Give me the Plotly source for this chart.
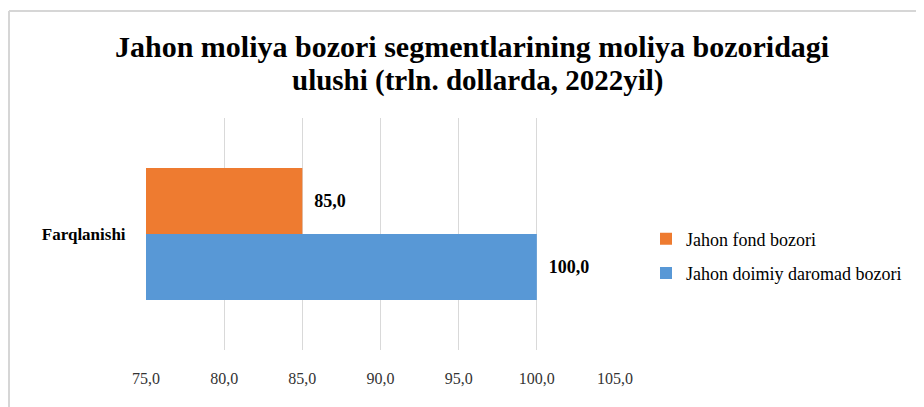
import plotly.graph_objects as go

categories = ["Farqlanishi"]
series_names = ["Jahon doimiy daromad bozori", "Jahon fond bozori"]
values_fixed_income = [100.0]
values_stock = [85.0]
tick_vals = [75, 80, 85, 90, 95, 100, 105]
title_lines = ["Jahon moliya bozori segmentlarining moliya bozoridagi",
               "ulushi (trln. dollarda, 2022yil)"]
colors = ["#5898D6", "#EE7B30"]

W, H = 916, 399
L, R, T, B = 138, 309, 110, 57
PW, PH = W - L - R, H - T - B


def px_x(x):
    return (x - L) / PW


def px_y(y):
    return (H - B - y) / PH


fig = go.Figure()
for i, (name, vals, col, rank) in enumerate([(series_names[0], values_fixed_income, colors[0], 2),
                                             (series_names[1], values_stock, colors[1], 1)]):
    fig.add_trace(go.Bar(
        y=categories, x=vals, name=name, orientation="h",
        legendgroup=str(i), legendrank=rank,
        marker=dict(color=col, line=dict(width=0)),
        texttemplate="\u00a0\u00a0<b>%{x:.1f}</b>", textposition="outside",
        textfont=dict(family="Liberation Serif", size=18, color="#000"),
        cliponaxis=False,
    ))

fig.update_layout(
    width=W, height=H,
    paper_bgcolor="white", plot_bgcolor="white",
    separators=", ",
    barmode="group", bargap=0.43, bargroupgap=0,
    margin=dict(l=L, r=R, t=T, b=B),
    xaxis=dict(
        range=[75, 105], tickvals=tick_vals, tickformat=".1f",
        showgrid=True, gridcolor="#d9d9d9", gridwidth=1,
        zeroline=False, showline=False,
        ticks="outside", ticklen=14, tickcolor="rgba(0,0,0,0)",
        tickfont=dict(family="Liberation Serif", size=16, color="#333"),
    ),
    yaxis=dict(
        showgrid=False, showline=False, zeroline=False,
        ticks="outside", ticklen=16, tickcolor="rgba(0,0,0,0)",
        tickfont=dict(family="Liberation Serif", size=17, color="#000"),
        tickprefix="<b>", ticksuffix="</b>",
    ),
    legend=dict(
        traceorder="grouped", tracegroupgap=8,
        x=px_x(638), y=px_y(248), xanchor="left", yanchor="middle",
        font=dict(family="Liberation Serif", size=18, color="#000"),
        itemwidth=30, bgcolor="rgba(0,0,0,0)",
    ),
    showlegend=True,
)

for line, xc, yc, fs in zip(title_lines, [463.5, 469.5], [39, 72], [30, 29]):
    fig.add_annotation(
        text="<b>" + line + "</b>", xref="paper", yref="paper",
        x=px_x(xc), y=px_y(yc), xanchor="center", yanchor="middle",
        showarrow=False,
        font=dict(family="Liberation Serif", size=fs, color="#000"),
    )

# chart frame border (top and left edges visible in the reference)
fig.add_shape(type="line", xref="paper", yref="paper",
              x0=px_x(1), x1=px_x(W + 10), y0=px_y(3), y1=px_y(3),
              line=dict(color="#d6d6d6", width=2))
fig.add_shape(type="line", xref="paper", yref="paper",
              x0=px_x(1), x1=px_x(1), y0=px_y(3), y1=px_y(H + 10),
              line=dict(color="#d6d6d6", width=2))

fig.write_html("out.html")
